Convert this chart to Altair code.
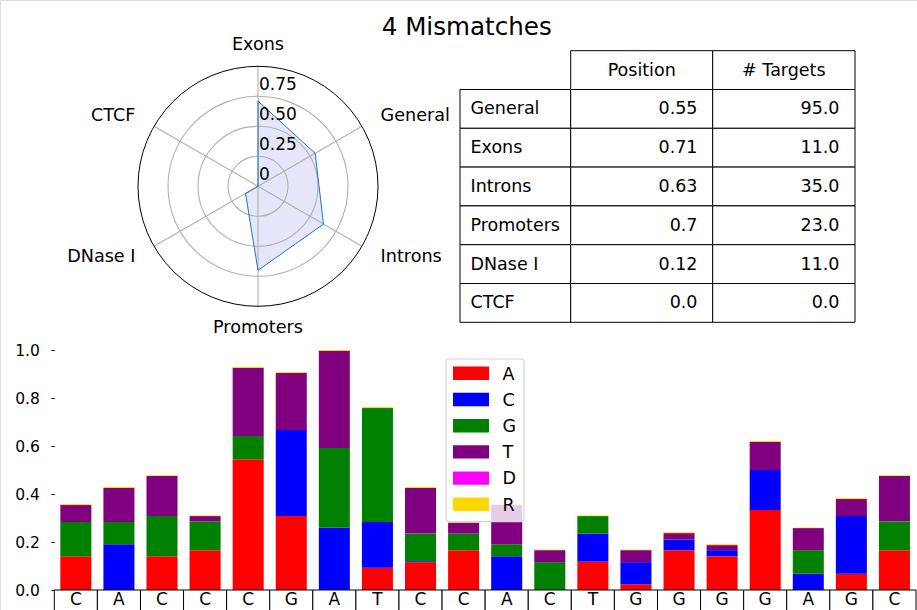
import altair as alt
import pandas as pd

# ---------------- data ----------------
title_text = "4 Mismatches"

regions = ["General", "Exons", "Introns", "Promoters", "DNase I", "CTCF"]
positions = [0.55, 0.71, 0.63, 0.7, 0.12, 0.0]
targets = [95.0, 11.0, 35.0, 23.0, 11.0, 0.0]
table_headers = ["Position", "# Targets"]

radar_order = ["Exons", "General", "Introns", "Promoters", "DNase I", "CTCF"]
radar_rings = [0.25, 0.5, 0.75]
radar_outer = [1.0]
radar_tick_values = [0.0, 0.25, 0.5, 0.75]
radar_tick_labels = ["0", "0.25", "0.50", "0.75"]

bases = ["C", "A", "C", "C", "C", "G", "A", "T", "C", "C",
         "A", "C", "T", "G", "G", "G", "G", "A", "G", "C"]
nucleotides = ["A", "C", "G", "T", "D", "R"]
nuc_colors = ["#ff0000", "#0000ff", "#008000", "#800080", "#ff00ff", "#ffd700"]

share_A = [0.141, 0.0, 0.141, 0.166, 0.545, 0.308, 0.0, 0.093, 0.116, 0.166,
           0.0, 0.0, 0.118, 0.024, 0.166, 0.141, 0.333, 0.0, 0.068, 0.166]
share_C = [0.0, 0.191, 0.0, 0.0, 0.0, 0.359, 0.260, 0.190, 0.004, 0.0,
           0.141, 0.0, 0.117, 0.092, 0.044, 0.025, 0.167, 0.068, 0.240, 0.0]
share_G = [0.142, 0.092, 0.167, 0.120, 0.097, 0.0, 0.332, 0.475, 0.115, 0.069,
           0.050, 0.116, 0.073, 0.0, 0.0, 0.0, 0.0, 0.098, 0.0, 0.120]
share_T = [0.071, 0.142, 0.167, 0.022, 0.283, 0.237, 0.404, 0.0, 0.190, 0.045,
           0.163, 0.050, 0.0, 0.050, 0.027, 0.021, 0.117, 0.092, 0.071, 0.189]
share_D = [0.0] * 20
share_R = [0.004, 0.004, 0.003, 0.003, 0.004, 0.004, 0.004, 0.004, 0.004, 0.003,
           0.004, 0.003, 0.003, 0.003, 0.004, 0.004, 0.004, 0.002, 0.004, 0.003]

y_ticks = [0.0, 0.2, 0.4, 0.6, 0.8, 1.0]

# ---------------- layout constants ----------------
FONT = "DejaVu Sans"
CX, CY, R = 258.0, 186.3, 120.0
LABEL_R = 141.5 / R
BAR_L, BAR_R, BAR_TOP, BAR_BOT = 54.3, 916.0, 350.0, 590.0
PAD_IN = 0.28

# ---------------- title ----------------
one = pd.DataFrame({"k": [0]})
title = alt.Chart(one).mark_text(
    text=title_text, font=FONT, fontSize=24.6, align="center", baseline="alphabetic", color="black"
).encode(x=alt.value(466.7), y=alt.value(35))

# ---------------- radar ----------------
pos_map = dict(zip(regions, positions))
n = len(radar_order)
radar_df = pd.DataFrame({
    "region": radar_order + radar_order[:1],
    "k": list(range(n + 1)),
    "v": [pos_map[r] for r in radar_order] + [pos_map[radar_order[0]]],
})
spoke_df = pd.DataFrame({"region": radar_order, "k": list(range(n))})
ring_df = pd.DataFrame({"r": radar_rings})
outer_df = pd.DataFrame({"r": radar_outer})
rtick_df = pd.DataFrame({"v": radar_tick_values, "label": radar_tick_labels})

xs = alt.Scale(domain=[-1, 1], range=[CX - R, CX + R], nice=False, zero=False)
ys = alt.Scale(domain=[-1, 1], range=[CY + R, CY - R], nice=False, zero=False)
ang = f"2*PI*datum.k/{n}"

poly = alt.Chart(radar_df).transform_calculate(ang=ang).transform_calculate(
    px="datum.v*sin(datum.ang)", py="datum.v*cos(datum.ang)")
poly_fill = poly.mark_line(fill="#e6e6fa", fillOpacity=1, strokeOpacity=0).encode(
    x=alt.X("px:Q", scale=xs, axis=None), y=alt.Y("py:Q", scale=ys, axis=None),
    order=alt.Order("k:Q"))
poly_line = poly.mark_line(stroke="#1f77b4", strokeWidth=1).encode(
    x="px:Q", y="py:Q", order=alt.Order("k:Q"))

rings = alt.Chart(ring_df).transform_calculate(sz=f"pow(2*datum.r*{R}, 2)").mark_point(
    shape="circle", filled=False, stroke="#b0b0b0", strokeWidth=1.1, opacity=1).encode(
    x=alt.datum(0), y=alt.datum(0), size=alt.Size("sz:Q", scale=None, legend=None))
outer = alt.Chart(outer_df).transform_calculate(sz=f"pow(2*datum.r*{R}, 2)").mark_point(
    shape="circle", filled=False, stroke="black", strokeWidth=1, opacity=1).encode(
    x=alt.datum(0), y=alt.datum(0), size=alt.Size("sz:Q", scale=None, legend=None))

spokes = alt.Chart(spoke_df).transform_calculate(ang=ang).transform_calculate(
    sx="sin(datum.ang)", sy="cos(datum.ang)", cx="0", cy="0").mark_rule(
    stroke="#b0b0b0", strokeWidth=1.1).encode(
    x="cx:Q", y="cy:Q", x2="sx:Q", y2="sy:Q")

rticks = alt.Chart(rtick_df).transform_calculate(cx="0").mark_text(
    font=FONT, fontSize=17, align="left", baseline="alphabetic", dx=1, dy=-6, color="black").encode(
    x="cx:Q", y="v:Q", text="label:N")

lab = alt.Chart(spoke_df).transform_calculate(ang=ang).transform_calculate(
    sx="sin(datum.ang)", sy="cos(datum.ang)").transform_calculate(
    lx=f"{LABEL_R}*datum.sx", ly=f"{LABEL_R}*datum.sy")
lab_kw = dict(font=FONT, fontSize=17.6, baseline="middle", color="black")
lab_c = lab.transform_filter("abs(datum.sx) < 0.1").mark_text(align="center", **lab_kw).encode(
    x="lx:Q", y="ly:Q", text="region:N")
lab_l = lab.transform_filter("datum.sx >= 0.1").mark_text(align="left", **lab_kw).encode(
    x="lx:Q", y="ly:Q", text="region:N")
lab_r = lab.transform_filter("datum.sx <= -0.1").mark_text(align="right", **lab_kw).encode(
    x="lx:Q", y="ly:Q", text="region:N")

radar = alt.layer(poly_fill, rings, spokes, outer, poly_line, rticks, lab_c, lab_l, lab_r)

# ---------------- table ----------------
table_df = pd.DataFrame({
    "row": regions,
    "pos_txt": [str(p) for p in positions],
    "tgt_txt": [str(t) for t in targets],
})
hdr_df = pd.DataFrame({"row": ["header"]})
tys = alt.Scale(domain=["header"] + regions, range=[50.7, 322.3], paddingInner=0, paddingOuter=0)
COLS = [460.0, 570.7, 712.7, 855.0]
cell_kw = dict(fill="white", stroke="black", strokeWidth=1)
txt_kw = dict(font=FONT, fontSize=17.5, baseline="alphabetic", dy=5.5, color="black")

t_name = alt.Chart(table_df).mark_rect(**cell_kw).encode(
    x=alt.value(COLS[0]), x2=alt.value(COLS[1]), y=alt.Y("row:N", scale=tys, axis=None))
t_pos = alt.Chart(table_df).mark_rect(**cell_kw).encode(
    x=alt.value(COLS[1]), x2=alt.value(COLS[2]), y="row:N")
t_tgt = alt.Chart(table_df).mark_rect(**cell_kw).encode(
    x=alt.value(COLS[2]), x2=alt.value(COLS[3]), y="row:N")
h_pos = alt.Chart(hdr_df).mark_rect(**cell_kw).encode(
    x=alt.value(COLS[1]), x2=alt.value(COLS[2]), y="row:N")
h_tgt = alt.Chart(hdr_df).mark_rect(**cell_kw).encode(
    x=alt.value(COLS[2]), x2=alt.value(COLS[3]), y="row:N")

tx_name = alt.Chart(table_df).mark_text(align="left", **txt_kw).encode(
    x=alt.value(COLS[0] + 10.5), y="row:N", text="row:N")
tx_pos = alt.Chart(table_df).mark_text(align="right", **txt_kw).encode(
    x=alt.value(COLS[2] - 15.2), y="row:N", text="pos_txt:N")
tx_tgt = alt.Chart(table_df).mark_text(align="right", **txt_kw).encode(
    x=alt.value(COLS[3] - 15.5), y="row:N", text="tgt_txt:N")
hx_pos = alt.Chart(hdr_df).mark_text(align="center", text=table_headers[0], **txt_kw).encode(
    x=alt.value((COLS[1] + COLS[2]) / 2), y="row:N")
hx_tgt = alt.Chart(hdr_df).mark_text(align="center", text=table_headers[1], **txt_kw).encode(
    x=alt.value((COLS[2] + COLS[3]) / 2), y="row:N")

table = alt.layer(t_name, t_pos, t_tgt, h_pos, h_tgt, tx_name, tx_pos, tx_tgt, hx_pos, hx_tgt)

# ---------------- stacked bars ----------------
shares = {"A": share_A, "C": share_C, "G": share_G, "T": share_T, "D": share_D, "R": share_R}
rows = []
for i, b in enumerate(bases):
    for j, nuc in enumerate(nucleotides):
        rows.append({"pos": i + 1, "base": b, "nuc": nuc, "k": j, "value": shares[nuc][i]})
bar_df = pd.DataFrame(rows)
base_df = pd.DataFrame({"pos": list(range(1, len(bases) + 1)), "base": bases})

xband = alt.Scale(range=[BAR_L, BAR_R], paddingInner=PAD_IN, paddingOuter=PAD_IN / 2)
yscale = alt.Scale(domain=[0, 1], range=[BAR_BOT, BAR_TOP], nice=False, zero=True)
cscale = alt.Scale(domain=nucleotides, range=nuc_colors)
yaxis = alt.Axis(values=y_ticks, format=".1f", domain=False, grid=False, ticks=True,
                 tickSize=3.3, tickColor="black", tickWidth=1, labelPadding=11.7,
                 labelFont=FONT, labelFontSize=15.5, labelColor="black", offset=-BAR_L,
                 title=None, orient="left")

bars = alt.Chart(bar_df).mark_bar().encode(
    x=alt.X("pos:O", scale=xband, axis=None),
    y=alt.Y("value:Q", stack="zero", scale=yscale, axis=yaxis),
    color=alt.Color("nuc:N", scale=cscale, legend=None),
    order=alt.Order("k:Q", sort="ascending"),
)
cells = alt.Chart(base_df).mark_rect(
    fill="white", stroke="black", strokeWidth=1,
    width=alt.RelativeBandSize(band=1 / (1 - PAD_IN))).encode(
    x="pos:O", y=alt.value(BAR_BOT), y2=alt.value(BAR_BOT + 50))
letters = alt.Chart(base_df).mark_text(
    font=FONT, fontSize=17, baseline="alphabetic", align="center", color="black").encode(
    x="pos:O", y=alt.value(605), text="base:N")

barchart = alt.layer(bars, cells, letters)

# ---------------- legend ----------------
leg_df = pd.DataFrame({"nuc": nucleotides})
lys = alt.Scale(domain=nucleotides, range=[360.2, 517.4], paddingInner=0.49, paddingOuter=0.245)
leg_bg = alt.Chart(one).mark_rect(
    fill="white", fillOpacity=0.8, stroke="#d4d4d4", strokeWidth=1.2, cornerRadius=3).encode(
    x=alt.value(446), x2=alt.value(524), y=alt.value(359), y2=alt.value(521.7))
leg_sw = alt.Chart(leg_df).mark_rect().encode(
    x=alt.value(453), x2=alt.value(489),
    y=alt.Y("nuc:N", scale=lys, axis=None),
    color=alt.Color("nuc:N", scale=cscale, legend=None))
leg_tx = alt.Chart(leg_df).mark_text(
    font=FONT, fontSize=17.5, align="left", baseline="middle", dy=1.2, color="black").encode(
    x=alt.value(502.5), y="nuc:N", text="nuc:N")
legend = alt.layer(leg_bg, leg_sw, leg_tx)

chart = alt.layer(title, radar, table, barchart, legend).resolve_scale(
    x="independent", y="independent", color="independent", size="independent"
).properties(
    width=917, height=610, autosize=alt.AutoSizeParams(type="none"), padding=0,
    background="white"
).configure_view(stroke="transparent", strokeWidth=0).configure(font=FONT)

chart.save("out.html", embed_options={"renderer": "svg", "actions": False})
